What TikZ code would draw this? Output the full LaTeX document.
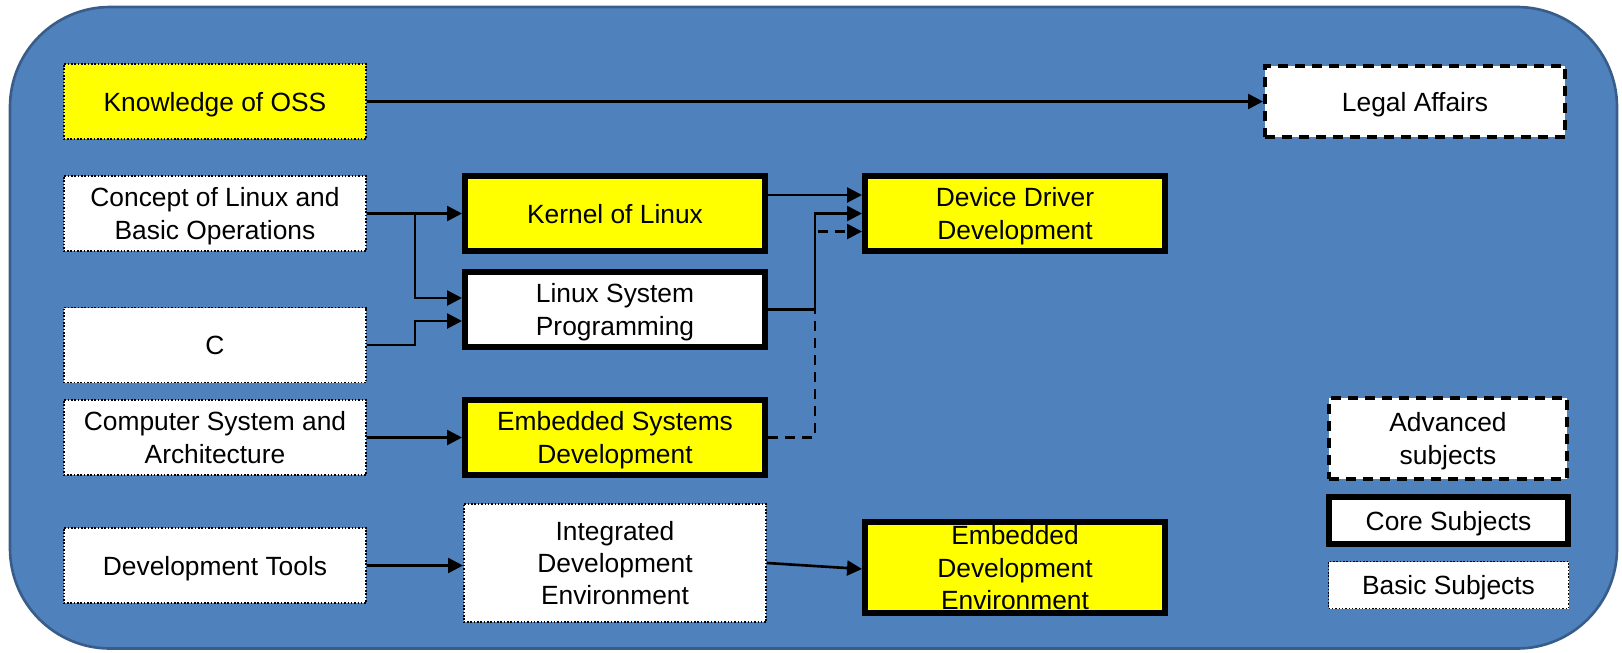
\documentclass[tikz,border=0pt]{standalone}
\usepackage{fontspec}
\setmainfont{Liberation Sans}
\usetikzlibrary{arrows.meta}
\definecolor{fondo}{HTML}{4F81BD}
\definecolor{borde}{HTML}{385D8A}
\definecolor{amarillo}{RGB}{255,255,0}
\tikzset{
  caja/.style={align=center, inner sep=0pt, text depth=0pt, font=\fontsize{15}{18.3}\selectfont},
  basica/.style={caja, draw, line width=0.9pt, densely dotted, fill=white, minimum width=6.05cm, minimum height=1.5cm},
  nucleo/.style={caja, draw, line width=3.4pt, fill=amarillo, minimum width=6cm, minimum height=1.5cm},
  avanzada/.style={caja, draw, line width=2.3pt, dash pattern=on 5.7pt off 4pt, fill=white},
  flecha/.style={-{Triangle[length=8.5pt,width=8.5pt]}, line width=1.5pt},
}

\begin{document}
\begin{tikzpicture}
    \useasboundingbox (0,0) rectangle (32.44,-13.04);
    % fondo
    \draw[fill=fondo, draw=borde, line width=1.5pt, rounded corners=2cm] (0.20,-0.14) rectangle (32.34,-12.97);

    \node[basica, fill=amarillo] (oss) at (4.30,-2.03) {Knowledge of OSS};
    \node[avanzada, minimum width=6cm, minimum height=1.42cm] (legal) at (28.30,-2.03) {Legal Affairs};
    \node[basica] (concept) at (4.30,-4.27) {Concept of Linux and\\Basic Operations};
    \node[nucleo] (kernel) at (12.30,-4.27) {Kernel of Linux};
    \node[nucleo] (ddd) at (20.30,-4.27) {Device Driver\\Development};
    \node[nucleo, fill=white] (lsp) at (12.30,-6.19) {Linux System\\Programming};
    \node[basica] (c) at (4.30,-6.90) {C};
    \node[basica] (csa) at (4.30,-8.75) {Computer System and\\Architecture};
    \node[nucleo] (esd) at (12.30,-8.75) {Embedded Systems\\Development};
    \node[basica] (tools) at (4.30,-11.31) {Development Tools};
    \node[basica, minimum height=2.37cm] (ide) at (12.30,-11.26) {Integrated\\Development\\Environment};
    \node[nucleo, minimum height=1.82cm] (ede) at (20.30,-11.35) {Embedded\\Development\\Environment};

    % leyenda
    \node[avanzada, minimum width=4.76cm, minimum height=1.62cm] (adv) at (28.96,-8.77) {Advanced\\subjects};
    \node[nucleo, fill=white, minimum width=4.78cm, minimum height=0.94cm] (core) at (28.97,-10.41) {Core Subjects};
    \node[basica, minimum width=4.8cm, minimum height=0.94cm] (basic) at (28.97,-11.70) {Basic Subjects};

    \coordinate (ja) at (8.30,-4.27);
    \coordinate (jb) at (16.30,-4.27);
    \coordinate (jc) at (16.30,-4.63);

    \draw[flecha] (oss) -- (legal);
    \draw[flecha] (concept) -- (kernel);
    \draw[flecha] (ja) |- ([yshift=0.23cm]lsp.west);
    \draw[flecha] (c.east) -- (c.east -| ja) |- ([yshift=-0.23cm]lsp.west);
    \draw[flecha] ([yshift=0.37cm]kernel.east) -- ([yshift=0.37cm]ddd.west);
    \draw[flecha] (lsp.east) -| (jb) -- (ddd.west);
    \draw[flecha, dash pattern=on 5.7pt off 4pt] (esd.east) -| (jc) -- (jc -| ddd.west); % linea discontinua
    \draw[flecha] (csa) -- (esd);
    \draw[flecha] (tools.east) -- (tools.east -| ide.west);
    \draw[flecha] (ide.east) -- ([yshift=-0.03cm]ede.west);
\end{tikzpicture}
\end{document}
